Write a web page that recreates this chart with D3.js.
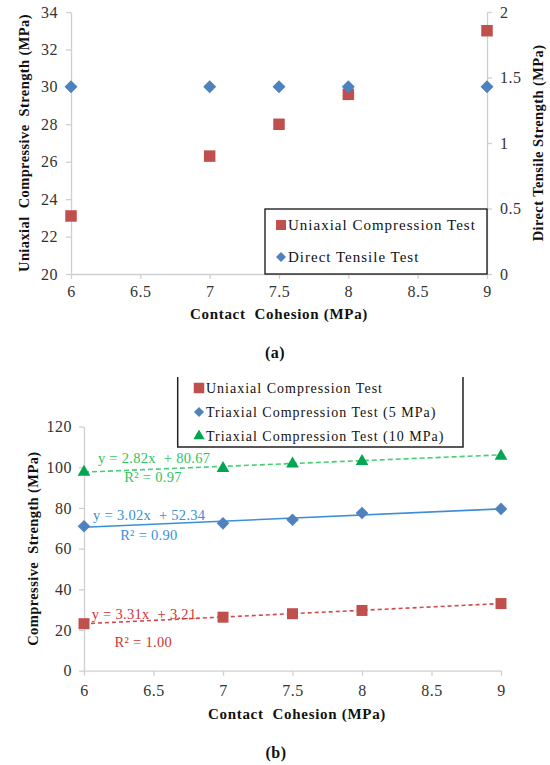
<!DOCTYPE html>
<html>
<head>
<meta charset="utf-8">
<script src="https://cdn.jsdelivr.net/npm/d3@7"></script>
<style>
  body { margin: 0; background: #fff; }
  svg text { white-space: pre; }
  .tick text { fill: #333; font-size: 16px; letter-spacing: 0.5px; }
  .tick line { stroke: #d0d0d0; stroke-width: 1.3; }
  .domain { stroke: #d0d0d0; stroke-width: 1.3; }
  .title { font-weight: bold; font-size: 14.5px; letter-spacing: 0.4px; fill: #111; }
</style>
</head>
<body>
<div id="chart"></div>
<script>
// contact cohesion (MPa)
const cohesion = [6, 7, 7.5, 8, 9];

// (a) uniaxial compressive strength (MPa, left axis) and direct tensile strength (MPa, right axis)
const ucs = [23.1, 26.3, 28.0, 29.6, 33.0];
const tensile = [1.43, 1.43, 1.43, 1.43, 1.43];

// (b) compressive strength (MPa)
const triax5 = [71.0, 72.4, 74.2, 77.5, 79.5];
const triax10 = [97.6, 99.5, 101.7, 102.9, 105.5];

// trendline coefficients as printed on the chart: [slope, intercept, r2]
const fitUcs = [3.31, 3.21, "1.00"];
const fit5 = [3.02, 52.34, "0.90"];
const fit10 = [2.82, 80.67, "0.97"];

const xTicks = [6, 6.5, 7, 7.5, 8, 8.5, 9];
const yTicksA = [20, 22, 24, 26, 28, 30, 32, 34];
const yTicksR = [0, 0.5, 1, 1.5, 2];
const yTicksB = [0, 20, 40, 60, 80, 100, 120];

const legendA = ["Uniaxial Compression Test", "Direct Tensile Test"];
const legendB = ["Uniaxial Compression Test", "Triaxial Compression Test (5 MPa)", "Triaxial Compression Test (10 MPa)"];

const red = "#c0504d", blue = "#4f81bd", green = "#00a651";
const FONT = '"Liberation Serif", "DejaVu Serif", serif';

const svg = d3.select("#chart").append("svg")
  .attr("width", 550).attr("height", 765)
  .attr("font-family", FONT);

const diamond = r => `M0,${-r}L${r},0L0,${r}L${-r},0Z`;
const square = s => `M${-s/2},${-s/2}h${s}v${s}h${-s}Z`;
const triangle = d3.symbol().type(d3.symbolTriangle).size(70)();

// ---------- chart (a) ----------
const xA = d3.scaleLinear().domain([6, 9]).range([71, 487]);
const yA = d3.scaleLinear().domain([20, 34]).range([274, 12]);
const yR = d3.scaleLinear().domain([0, 2]).range([274, 12]);

const gA = svg.append("g");

gA.append("g").attr("transform", "translate(0,274)")
  .call(d3.axisBottom(xA).tickValues(xTicks).tickSize(5).tickPadding(7).tickSizeOuter(0)
    .tickFormat(d3.format("")));
gA.append("g").attr("transform", "translate(71,0)")
  .call(d3.axisLeft(yA).tickValues(yTicksA).tickSize(5).tickPadding(8).tickSizeOuter(0));
gA.append("g").attr("transform", "translate(487,0)")
  .call(d3.axisRight(yR).tickValues(yTicksR).tickSize(5).tickPadding(8).tickSizeOuter(0)
    .tickFormat(d3.format("")));

gA.selectAll(".ucs").data(cohesion).join("path")
  .attr("transform", (d, i) => `translate(${xA(d)},${yA(ucs[i])})`)
  .attr("d", square(11.5)).attr("fill", red);

gA.selectAll(".dtt").data(cohesion).join("path")
  .attr("transform", (d, i) => `translate(${xA(d)},${yR(tensile[i])})`)
  .attr("d", diamond(6.5)).attr("fill", blue);

// legend (a)
gA.append("rect").attr("x", 265).attr("y", 209).attr("width", 222).attr("height", 65)
  .attr("fill", "#fff").attr("stroke", "#111").attr("stroke-width", 1.3);
const legA = gA.selectAll(".legA").data(legendA).join("g")
  .attr("transform", (d, i) => `translate(281,${225 + i * 32})`);
legA.append("path").attr("d", (d, i) => i === 0 ? square(10) : diamond(5))
  .attr("fill", (d, i) => i === 0 ? red : blue);
legA.append("text").attr("x", 7).attr("dy", "0.35em")
  .style("font-size", "15px").style("letter-spacing", "1px").attr("fill", "#111")
  .text(d => d);

gA.append("text").attr("class", "title")
  .attr("transform", "translate(24,143) rotate(-90)").attr("text-anchor", "middle").attr("dy", "0.35em")
  .text("Uniaxial  Compressive  Strength (MPa)");
gA.append("text").attr("class", "title")
  .attr("transform", "translate(538,143) rotate(-90)").attr("text-anchor", "middle").attr("dy", "0.35em")
  .text("Direct Tensile Strength (MPa)");
gA.append("text").attr("class", "title")
  .attr("x", 279).attr("y", 314).attr("text-anchor", "middle").attr("dy", "0.35em")
  .style("font-size", "15px").style("letter-spacing", "0.7px")
  .text("Contact  Cohesion (MPa)");
gA.append("text").attr("class", "title")
  .attr("x", 275).attr("y", 352).attr("text-anchor", "middle").attr("dy", "0.35em")
  .style("font-size", "16px")
  .text("(a)");

// ---------- chart (b) ----------
const xB = d3.scaleLinear().domain([6, 9]).range([84, 501]);
const yB = d3.scaleLinear().domain([0, 120]).range([670.7, 426.5]);

const gB = svg.append("g");

gB.append("g").attr("transform", "translate(0,670.7)")
  .call(d3.axisBottom(xB).tickValues(xTicks).tickSize(5).tickPadding(9).tickSizeOuter(0)
    .tickFormat(d3.format("")));
gB.append("g").attr("transform", "translate(84,0)")
  .call(d3.axisLeft(yB).tickValues(yTicksB).tickSize(5).tickPadding(7).tickSizeOuter(0));

const series = [
  { vals: ucs, fit: fitUcs, color: red, line: "#d24b4b", dash: "4,3", eq: [6.055, 27.9], r2: [6.22, 14.3], txt: "#d43333" },
  { vals: triax5, fit: fit5, color: blue, line: "#3d8ed8", dash: null, eq: [6.065, 76.5], r2: [6.26, 66.7], txt: "#3a8fd9" },
  { vals: triax10, fit: fit10, color: green, line: "#45cf75", dash: "5,3", eq: [6.1, 104.7], r2: [6.29, 95.3], txt: "#2fc463" }
];

series.forEach((s, k) => {
  const [a, b] = s.fit;
  gB.append("line")
    .attr("x1", xB(6)).attr("y1", yB(a * 6 + b))
    .attr("x2", xB(9)).attr("y2", yB(a * 9 + b))
    .attr("stroke", s.line).attr("stroke-width", 1.6)
    .attr("stroke-dasharray", s.dash);
});

series.forEach((s, k) => {
  const shape = k === 0 ? square(11) : k === 1 ? diamond(6.3) : triangle;
  gB.selectAll(".m" + k).data(cohesion).join("path")
    .attr("transform", (d, i) => `translate(${xB(d)},${yB(s.vals[i])})`)
    .attr("d", shape).attr("fill", s.color);
});

series.forEach(s => {
  const [a, b, r2] = s.fit;
  gB.append("text").attr("x", xB(s.eq[0])).attr("y", yB(s.eq[1])).attr("dy", "0.35em")
    .attr("fill", s.txt).style("font-size", "14.5px").style("letter-spacing", "0.3px")
    .text(`y = ${a.toFixed(2)}x  + ${b.toFixed(2)}`);
  gB.append("text").attr("x", xB(s.r2[0])).attr("y", yB(s.r2[1])).attr("dy", "0.35em")
    .attr("fill", s.txt).style("font-size", "14.5px").style("letter-spacing", "0.3px")
    .text(`R² = ${r2}`);
});

// legend (b), box open at the top as in the figure
gB.append("path").attr("d", "M177.7,377V447H463V377")
  .attr("fill", "none").attr("stroke", "#222").attr("stroke-width", 1.5);
const legB = gB.selectAll(".legB").data(legendB).join("g")
  .attr("transform", (d, i) => `translate(199,${388 + i * 24})`);
legB.append("path").attr("d", (d, i) => i === 0 ? square(10.5) : i === 1 ? diamond(5) : d3.symbol().type(d3.symbolTriangle).size(55)())
  .attr("fill", (d, i) => [red, blue, green][i]);
legB.append("text").attr("x", 7).attr("dy", "0.35em")
  .style("font-size", "14px").style("letter-spacing", "1px").attr("fill", "#111")
  .text(d => d);

gB.append("text").attr("class", "title")
  .attr("transform", "translate(33,548.6) rotate(-90)").attr("text-anchor", "middle").attr("dy", "0.35em")
  .text("Compressive  Strength (MPa)");
gB.append("text").attr("class", "title")
  .attr("x", 297).attr("y", 714).attr("text-anchor", "middle").attr("dy", "0.35em")
  .style("font-size", "15px").style("letter-spacing", "0.7px")
  .text("Contact  Cohesion (MPa)");
gB.append("text").attr("class", "title")
  .attr("x", 276).attr("y", 752).attr("text-anchor", "middle").attr("dy", "0.35em")
  .style("font-size", "16px")
  .text("(b)");

// the axes carry their own sans-serif font attribute; give every label the serif face
svg.selectAll("g").attr("font-family", null);
svg.selectAll("text").style("font-family", FONT);
</script>
</body>
</html>
